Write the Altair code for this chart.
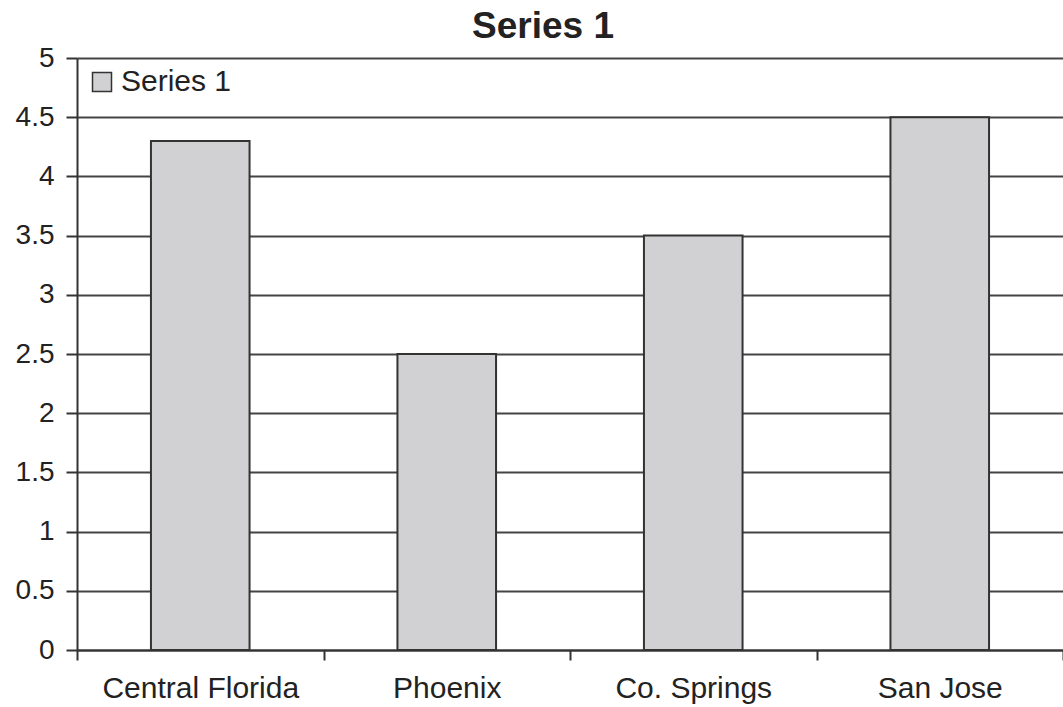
import altair as alt
import pandas as pd

categories = ["Central Florida", "Phoenix", "Co. Springs", "San Jose"]
values = [4.3, 2.5, 3.5, 4.5]
series = ["Series 1"] * 4
y_ticks = [0, 0.5, 1, 1.5, 2, 2.5, 3, 3.5, 4, 4.5, 5]

df = pd.DataFrame({"category": categories, "value": values, "series": series})

FONT = "Liberation Sans"

chart = alt.Chart(df).mark_bar(
    width=alt.RelativeBandSize(0.4), stroke="#333333", strokeWidth=2
).encode(
    x=alt.X("category:N", sort=categories, title=None,
            scale=alt.Scale(paddingInner=0, paddingOuter=0),
            axis=alt.Axis(labelAngle=0, tickBand="extent", tickSize=10, tickColor="#333333",
                          tickWidth=2, domainColor="#333333", domainWidth=2,
                          labelFont=FONT, labelFontSize=30, labelColor="#222222",
                          labelPadding=13, labelLimit=0, grid=False)),
    y=alt.Y("value:Q", title=None,
            scale=alt.Scale(domain=[0, 5], nice=False),
            axis=alt.Axis(values=y_ticks, format="~g", tickSize=11, tickColor="#333333",
                          tickWidth=2, domainColor="#333333", domainWidth=2,
                          labelFont=FONT, labelFontSize=28, labelColor="#222222",
                          labelPadding=12, grid=True, gridColor="#444444", gridWidth=2,
                          gridOpacity=1)),
    color=alt.Color("series:N", scale=alt.Scale(range=["#d1d1d3"]), title=None,
                    legend=alt.Legend(orient="none", legendX=10, legendY=9,
                                      symbolType="square", symbolSize=361,
                                      symbolStrokeColor="#333333", symbolStrokeWidth=1.5,
                                      symbolOpacity=1,
                                      labelFont=FONT, labelFontSize=30, labelColor="#222222",
                                      labelOffset=4, padding=0)),
).properties(
    width=986, height=592,
    title=alt.TitleParams("Series 1", font=FONT, fontSize=37, fontWeight="bold",
                          color="#222222", anchor="middle", offset=11, dx=-27, dy=13),
    autosize=alt.AutoSizeParams(type="none"),
    padding={"left": 77, "top": 58, "right": 0, "bottom": 57},
).configure_view(strokeWidth=0).configure(background="white")

chart.save("out.html", embed_options={"renderer": "svg", "actions": False})
